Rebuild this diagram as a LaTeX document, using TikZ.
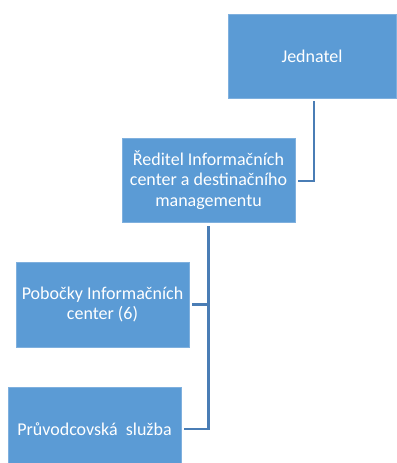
\documentclass[tikz,border=0pt]{standalone}
\usepackage{fontspec}
\setmainfont{Carlito}
\usetikzlibrary{calc}
\definecolor{boxfill}{HTML}{5B9BD5}
\definecolor{boxedge}{HTML}{7FB0DE}
\definecolor{linecol}{HTML}{4A7DB5}
\tikzset{
  orgbox/.style={rectangle, fill=boxfill, draw=boxedge, line width=0.5pt, text=white,
    minimum width=173*0.75pt, minimum height=84*0.75pt, inner sep=0pt, align=center,
    font=\fontsize{13.5}{15.6}\selectfont},
  conn/.style={draw=linecol, line width=2.2*0.75pt}
}
\begin{document}
\begin{tikzpicture}[x=0.75pt,y=-0.75pt]
\useasboundingbox (0,0) rectangle (396,463);
\node[orgbox, minimum width=168*0.75pt] (jed) at (312,56) {Jednatel};
\node[orgbox] (red) at (208.5,180) {Ředitel Informačních\\center a destinačního\\managementu};
\node[orgbox, minimum height=85*0.75pt] (pob) at (102.5,304.5) {Pobočky Informačních\\center (6)};
\node[orgbox] (pru) at (94.5,429) {Průvodcovská\ \ služba};
\draw[conn] ($(jed.south)+(2,3)$) |- ($(red.east)+(3,1)$);
\draw[conn] ($(red.south)+(0,4)$) |- ($(pob.east)+(3,0)$);
\draw[conn] ($(red.south)+(0,4)$) |- ($(pru.east)+(3,0)$);
\end{tikzpicture}
\end{document}
